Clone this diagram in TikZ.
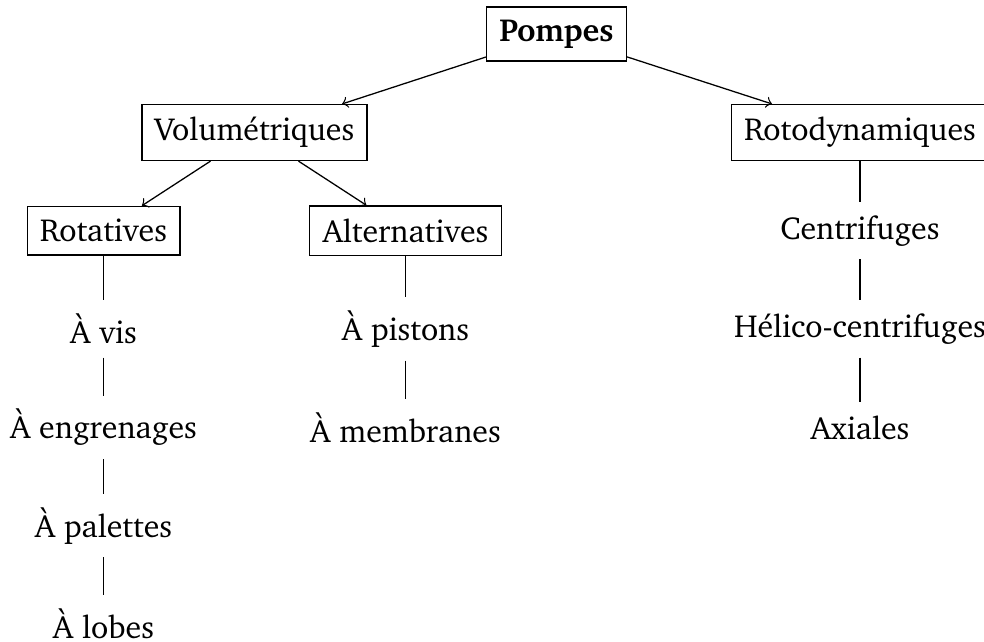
\documentclass[tikz,border=0pt]{standalone}
\usepackage[T1]{fontenc}
\usepackage{charter}
\begin{document}
\begin{tikzpicture}[x=0.3135pt,y=-0.3135pt,
  boxnode/.style={draw,inner sep=4pt},
  plainnode/.style={inner sep=4pt},
  arr/.style={->},
  link/.style={-}]
\useasboundingbox (0,0) rectangle (984,641);
\node[boxnode,font=\bfseries] (P) at (556.5,34) {Pompes};
\node[boxnode] (V) at (254.5,132.5) {Volumétriques};
\node[boxnode] (R) at (860,132.5) {Rotodynamiques};
\node[boxnode] (Rt) at (103.5,230.7) {Rotatives};
\node[boxnode] (Al) at (405.5,230.7) {Alternatives};
\node[plainnode] (Vis) at (103.5,329) {À vis};
\node[plainnode] (Eng) at (103.5,427.4) {À engrenages};
\node[plainnode] (Pal) at (103.5,525.7) {À palettes};
\node[plainnode] (Lob) at (103.5,624) {À lobes};
\node[plainnode] (Pis) at (405.5,329) {À pistons};
\node[plainnode] (Mem) at (405.5,427.4) {À membranes};
\node[plainnode] (Cen) at (860,230.7) {Centrifuges};
\node[plainnode] (Hel) at (860,329) {Hélico-centrifuges};
\node[plainnode] (Axi) at (860,427.4) {Axiales};
\draw[arr] (P) -- (V);
\draw[arr] (P) -- (R);
\draw[arr] (V) -- (Rt);
\draw[arr] (V) -- (Al);
\draw[link] (Rt) -- (Vis);
\draw[link] (Vis) -- (Eng);
\draw[link] (Eng) -- (Pal);
\draw[link] (Pal) -- (Lob);
\draw[link] (Al) -- (Pis);
\draw[link] (Pis) -- (Mem);
\draw[link] (R) -- (Cen);
\draw[link] (Cen) -- (Hel);
\draw[link] (Hel) -- (Axi);
\end{tikzpicture}
\end{document}
